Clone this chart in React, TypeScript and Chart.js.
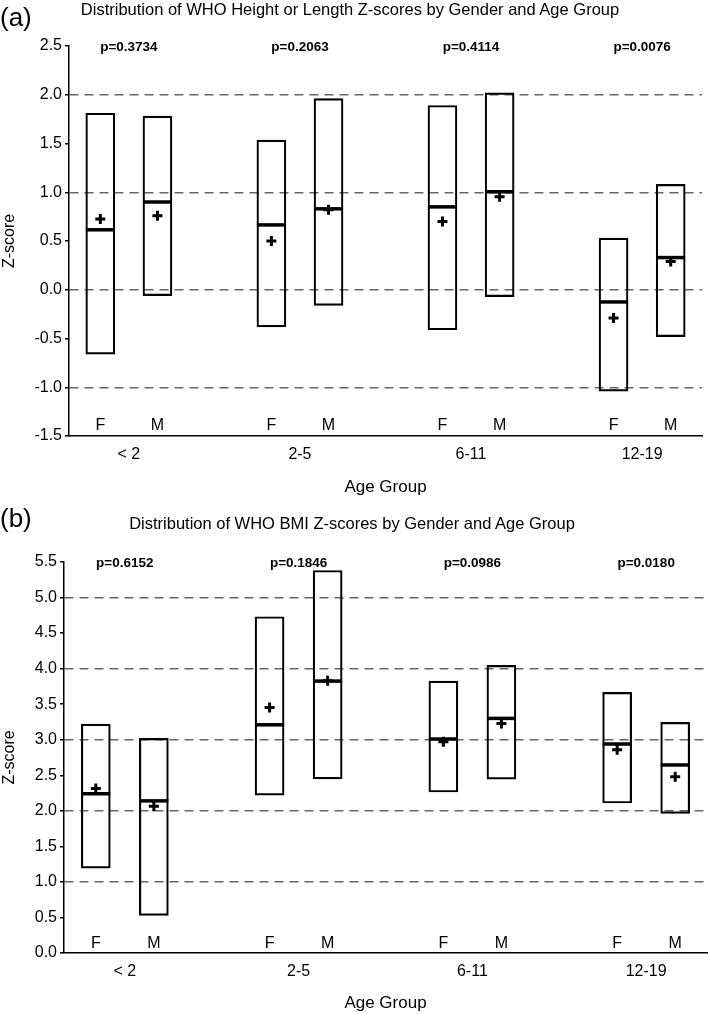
import React, { useEffect, useRef } from 'react';
import { Chart, registerables } from 'chart.js';

Chart.register(...registerables);

const FONT = '"Liberation Sans", Arial, sans-serif';

const groups = ['< 2', '2-5', '6-11', '12-19'];
const sexes = ['F', 'M'];

// Panel (a): WHO Height or Length Z-scores (order: <2 F, <2 M, 2-5 F, 2-5 M, 6-11 F, 6-11 M, 12-19 F, 12-19 M)
const heightPValues = ['p=0.3734', 'p=0.2063', 'p=0.4114', 'p=0.0076'];
const heightLow = [-0.66, -0.06, -0.38, -0.16, -0.41, -0.07, -1.04, -0.48];
const heightHigh = [1.81, 1.78, 1.535, 1.96, 1.89, 2.02, 0.53, 1.08];
const heightMedian = [0.615, 0.9, 0.665, 0.83, 0.85, 1.005, -0.125, 0.33];
const heightMean = [0.725, 0.76, 0.5, 0.82, 0.7, 0.955, -0.29, 0.29];
const heightTicks = { min: -1.5, max: 2.5 };

// Panel (b): WHO BMI Z-scores
const bmiPValues = ['p=0.6152', 'p=0.1846', 'p=0.0986', 'p=0.0180'];
const bmiLow = [1.195, 0.53, 2.22, 2.45, 2.265, 2.445, 2.11, 1.965];
const bmiHigh = [3.22, 3.02, 4.73, 5.38, 3.825, 4.045, 3.665, 3.245];
const bmiMedian = [2.24, 2.14, 3.21, 3.825, 3.01, 3.3, 2.94, 2.645];
const bmiMean = [2.315, 2.065, 3.455, 3.83, 2.97, 3.23, 2.86, 2.48];
const bmiTicks = { min: 0, max: 5.5 };

const SEX_OFFSET = 0.167;
const xs = groups.flatMap((_, g) => [g + 1 - SEX_OFFSET, g + 1 + SEX_OFFSET]);

type PanelProps = {
  low: number[];
  high: number[];
  median: number[];
  mean: number[];
  pvals: string[];
  yMin: number;
  yMax: number;
  width: number;
  height: number;
  padTop: number;
  padRight: number;
  yWidth: number;
  xHeight: number;
  titlePadBottom: number;
  fmOffset: number;
};

function BoxPanel(props: PanelProps) {
  const ref = useRef<HTMLCanvasElement | null>(null);
  useEffect(() => {
    if (!ref.current) return;
    const {
      low, high, median, mean, pvals, yMin, yMax, padTop, padRight, yWidth, xHeight, titlePadBottom, fmOffset,
    } = props;

    const labelsPlugin = {
      id: 'boxLabels',
      afterDatasetsDraw(chart: any) {
        const { ctx, chartArea, scales } = chart;
        ctx.save();
        ctx.fillStyle = '#000';
        ctx.textAlign = 'center';
        ctx.textBaseline = 'middle';
        ctx.font = `16px ${FONT}`;
        xs.forEach((x, i) => {
          ctx.fillText(sexes[i % 2], scales.x.getPixelForValue(x), chartArea.bottom - fmOffset);
        });
        ctx.font = `bold 13.5px ${FONT}`;
        pvals.forEach((p, g) => {
          ctx.fillText(p, scales.x.getPixelForValue(g + 1), chartArea.top + 1);
        });
        ctx.restore();
      },
    };

    const chart = new Chart(ref.current, {
      type: 'bar',
      data: {
        datasets: [
          {
            type: 'scatter',
            data: xs.map((x, i) => ({ x, y: median[i] })),
            pointStyle: 'line',
            pointRadius: 14.5,
            pointBorderWidth: 3.5,
            pointBorderColor: '#000',
            pointBackgroundColor: '#000',
            borderColor: '#000',
            showLine: false,
          } as any,
          {
            type: 'scatter',
            data: xs.map((x, i) => ({ x, y: mean[i] })),
            pointStyle: 'cross',
            pointRadius: 5,
            pointBorderWidth: 3,
            pointBorderColor: '#000',
            pointBackgroundColor: '#000',
            borderColor: '#000',
            showLine: false,
          } as any,
          {
            type: 'bar',
            data: xs.map((x, i) => ({ x, y: [low[i], high[i]] })),
            backgroundColor: 'rgba(0,0,0,0)',
            borderColor: '#000',
            borderWidth: 1.5,
            borderSkipped: false,
            barThickness: 29,
          } as any,
        ],
      },
      options: {
        responsive: false,
        animation: false,
        events: [],
        plugins: { legend: { display: false }, tooltip: { enabled: false } },
        layout: { autoPadding: false, padding: { top: padTop, right: padRight, left: 0, bottom: 0 } },
        scales: {
          x: {
            type: 'linear',
            min: 0.65,
            max: 4.35,
            offset: false,
            afterBuildTicks: (s: any) => {
              s.ticks = groups.map((_, g) => ({ value: g + 1 }));
            },
            afterFit: (s: any) => {
              s.height = xHeight;
            },
            ticks: {
              autoSkip: false,
              maxRotation: 0,
              padding: 9,
              color: '#000',
              font: { family: FONT, size: 16 },
              callback: (_v: any, i: number) => groups[i],
            },
            grid: { display: false, drawTicks: false },
            border: { display: true, color: '#000', width: 1.5 },
            title: {
              display: true,
              text: 'Age Group',
              color: '#000',
              font: { family: FONT, size: 17 },
              padding: { top: 0, bottom: titlePadBottom },
            },
          },
          y: {
            type: 'linear',
            min: yMin,
            max: yMax,
            afterFit: (s: any) => {
              s.width = yWidth;
            },
            ticks: {
              stepSize: 0.5,
              padding: 3,
              color: '#000',
              font: { family: FONT, size: 16 },
              callback: (v: any) => Number(v).toFixed(1),
            },
            grid: {
              color: (c: any) => {
                const v = c.tick ? c.tick.value : NaN;
                return Number.isInteger(v) && v > yMin && v < yMax ? '#666' : 'rgba(0,0,0,0)';
              },
              lineWidth: 1.5,
              drawTicks: true,
              tickLength: 4,
              tickWidth: 1.5,
              tickColor: '#000',
              tickBorderDash: [],
            },
            border: { display: true, color: '#000', width: 1.5, dash: [9, 6] },
            title: {
              display: true,
              text: 'Z-score',
              color: '#000',
              font: { family: FONT, size: 16 },
              padding: { top: 0, bottom: 0 },
            },
          },
        },
      } as any,
      plugins: [labelsPlugin],
    });
    return () => chart.destroy();
  }, []);
  return (
    <canvas
      ref={ref}
      width={props.width}
      height={props.height}
      style={{ display: 'block', width: props.width, height: props.height }}
    />
  );
}

export default function App() {
  const abs = (left: number, top: number, extra: React.CSSProperties = {}): React.CSSProperties => ({
    position: 'absolute',
    left,
    top,
    whiteSpace: 'nowrap',
    color: '#000',
    fontFamily: FONT,
    ...extra,
  });
  return (
    <div style={{ position: 'absolute', left: 0, top: 0, width: 709, height: 1014, background: '#fff', overflow: 'hidden' }}>
      <div style={abs(0, 0)}>
        <BoxPanel
          low={heightLow}
          high={heightHigh}
          median={heightMedian}
          mean={heightMean}
          pvals={heightPValues}
          yMin={heightTicks.min}
          yMax={heightTicks.max}
          width={709}
          height={500}
          padTop={46}
          padRight={7}
          yWidth={69}
          xHeight={64}
          titlePadBottom={2.3}
          fmOffset={10}
        />
      </div>
      <div style={abs(0, 496)}>
        <BoxPanel
          low={bmiLow}
          high={bmiHigh}
          median={bmiMedian}
          mean={bmiMean}
          pvals={bmiPValues}
          yMin={bmiTicks.min}
          yMax={bmiTicks.max}
          width={709}
          height={518}
          padTop={66}
          padRight={2}
          yWidth={64}
          xHeight={61}
          titlePadBottom={0.3}
          fmOffset={9}
        />
      </div>
      <div style={abs(0, 2, { fontSize: 26, lineHeight: '30px' })}>(a)</div>
      <div style={abs(0, 503, { fontSize: 26, lineHeight: '30px' })}>(b)</div>
      <div style={abs(0, -1.3, { width: 700, textAlign: 'center', fontSize: 16.5, lineHeight: '20px' })}>
        Distribution of WHO Height or Length Z-scores by Gender and Age Group
      </div>
      <div style={abs(0, 512.7, { width: 704, textAlign: 'center', fontSize: 16.5, lineHeight: '20px' })}>
        Distribution of WHO BMI Z-scores by Gender and Age Group
      </div>
    </div>
  );
}
